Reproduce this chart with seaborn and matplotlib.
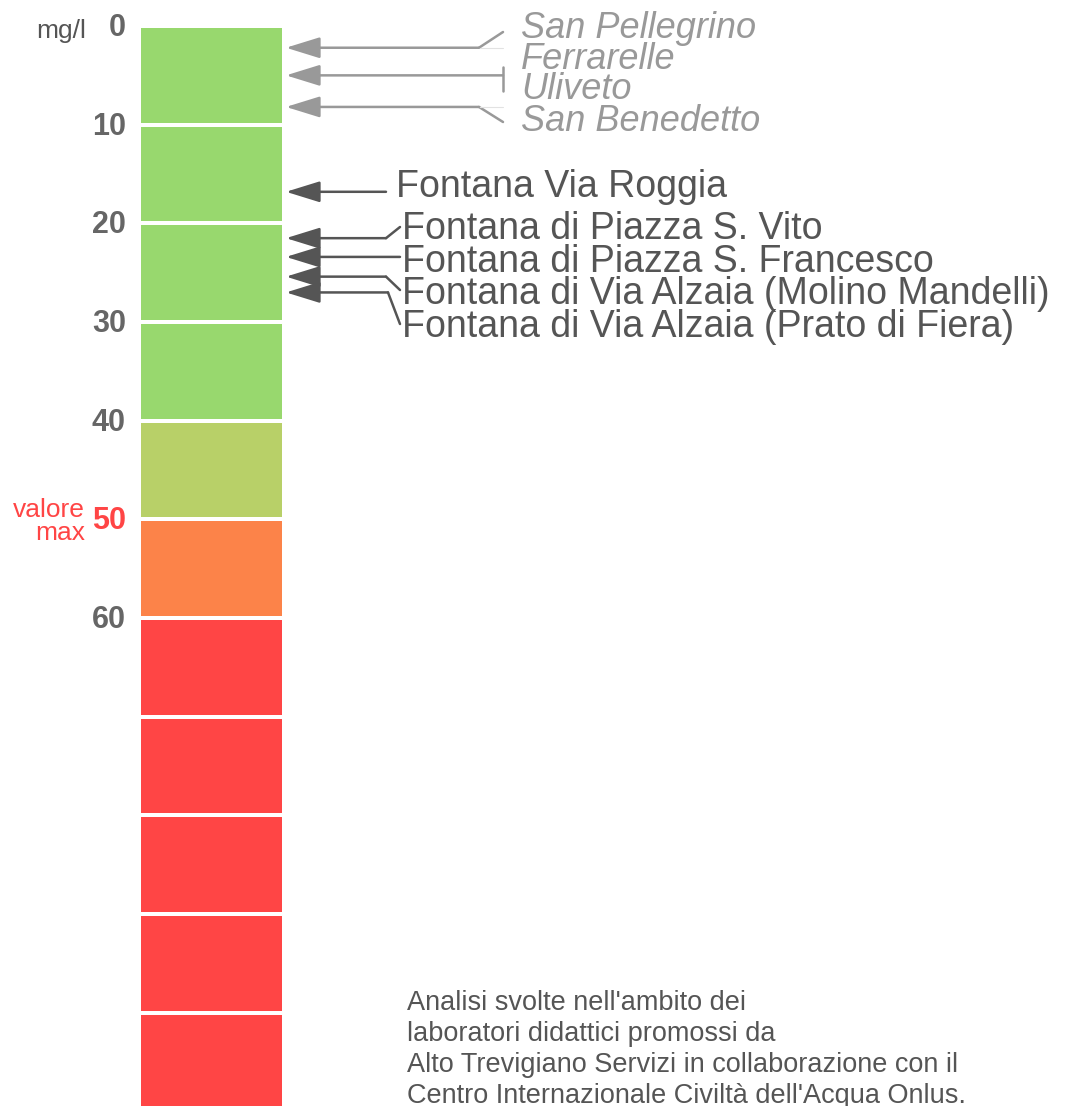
"""
Nitrati nelle acque: scala in mg/l con fontane e acque minerali.
"""

import matplotlib
matplotlib.use('Agg')
import matplotlib.pyplot as plt
import seaborn as sns

# scala a blocchi da 10 mg/l
segment_starts = [0, 10, 20, 30, 40, 50, 60, 70, 80, 90, 100]
segment_colors = ['#98d86e', '#98d86e', '#98d86e', '#98d86e', '#b8d068',
                  '#fc8349', '#ff4545', '#ff4545', '#ff4545', '#ff4545',
                  '#ff4545']
tick_values = [0, 10, 20, 30, 40, 50, 60]

# acque minerali
mineral_names = ['San Pellegrino', 'Ferrarelle', 'Uliveto', 'San Benedetto']
mineral_values = [2.0, 4.8, 8.0]

# fontane
fountain_names = ['Fontana Via Roggia', 'Fontana di Piazza S. Vito',
                  'Fontana di Piazza S. Francesco',
                  'Fontana di Via Alzaia (Molino Mandelli)',
                  'Fontana di Via Alzaia (Prato di Fiera)']
fountain_values = [16.6, 21.3, 23.2, 25.2, 26.8]

note_lines = ["Analisi svolte nell'ambito dei",
              "laboratori didattici promossi da",
              "Alto Trevigiano Servizi in collaborazione con il",
              "Centro Internazionale Civiltà dell'Acqua Onlus."]

sns.set_theme(style='white')
plt.rcParams['font.family'] = ['Liberation Sans', 'DejaVu Sans']

W, H = 1070, 1106
TOP = 28        # pixel of 0 mg/l
SCALE = 9.867   # pixel per mg/l


def px(py):
    """Convert a pixel row of the picture to mg/l."""
    return (py - TOP) / SCALE


fig = plt.figure(figsize=(W / 100, H / 100), dpi=100)
ax = fig.add_axes([0, 0, 1, 1])
ax.set_xlim(0, W)
ax.set_ylim(px(H), px(0))
ax.axis('off')

# column
ax.bar([211] * len(segment_starts), [9.6] * len(segment_starts),
       bottom=segment_starts, width=141, color=segment_colors,
       align='center', linewidth=0)

# tick labels
for v in tick_values:
    col = '#ff4545' if v == 50 else '#666666'
    ax.text(126, v, str(v), ha='right', va='center', fontsize=22,
            fontweight='bold', color=col)
ax.text(86, px(31), 'mg/l', ha='right', va='center', fontsize=19,
        color='#555555')
ax.text(85, 50, 'valore\nmax', ha='right', va='center', fontsize=19,
        color='#ff4545', linespacing=0.92, multialignment='right')

dark = '#555555'
light = '#999999'
head = '-|>,head_length=21,head_width=6.5'


def pointer(value, x_end, color):
    ax.annotate('', xy=(286, value), xytext=(x_end, value),
                arrowprops=dict(arrowstyle=head, color=color, lw=1.8,
                                shrinkA=0, shrinkB=0, mutation_scale=1))


# mineral waters
pointer(mineral_values[0], 479, light)
ax.plot([479, 503], [mineral_values[0], px(32)], color=light, lw=1.8)
ax.plot([479, 503], [mineral_values[0], mineral_values[0]],
        color='#e2e2e2', lw=0.8)
pointer(mineral_values[1], 503, light)
ax.plot([503, 503], [px(67), px(91)], color=light, lw=1.8)
pointer(mineral_values[2], 479, light)
ax.plot([479, 503], [mineral_values[2], px(122)], color=light, lw=1.8)
ax.plot([479, 503], [mineral_values[2], mineral_values[2]],
        color='#e2e2e2', lw=0.8)

mineral_baselines = [38, 69, 99, 131]
for name, b in zip(mineral_names, mineral_baselines):
    ax.text(521, px(b), name, ha='left', va='baseline', fontsize=26,
            style='italic', color=light)

# fountains
pointer(fountain_values[0], 386, dark)
pointer(fountain_values[1], 386, dark)
ax.plot([386, 400], [fountain_values[1], px(227)], color=dark, lw=1.8)
pointer(fountain_values[2], 400, dark)
pointer(fountain_values[3], 386, dark)
ax.plot([386, 400], [fountain_values[3], px(290)], color=dark, lw=1.8)
pointer(fountain_values[4], 388, dark)
ax.plot([388, 400], [fountain_values[4], px(324)], color=dark, lw=1.8)

fountain_x = [396, 402, 402, 402, 402]
fountain_baselines = [197, 239, 272, 304, 337]
for name, x, b in zip(fountain_names, fountain_x, fountain_baselines):
    ax.text(x, px(b), name, ha='left', va='baseline', fontsize=27,
            color=dark)

# note
for i, line in enumerate(note_lines):
    ax.text(407, px(1010 + 31 * i), line, ha='left', va='baseline',
            fontsize=19.5, color='#555555')

fig.savefig('out.png', dpi=100)
